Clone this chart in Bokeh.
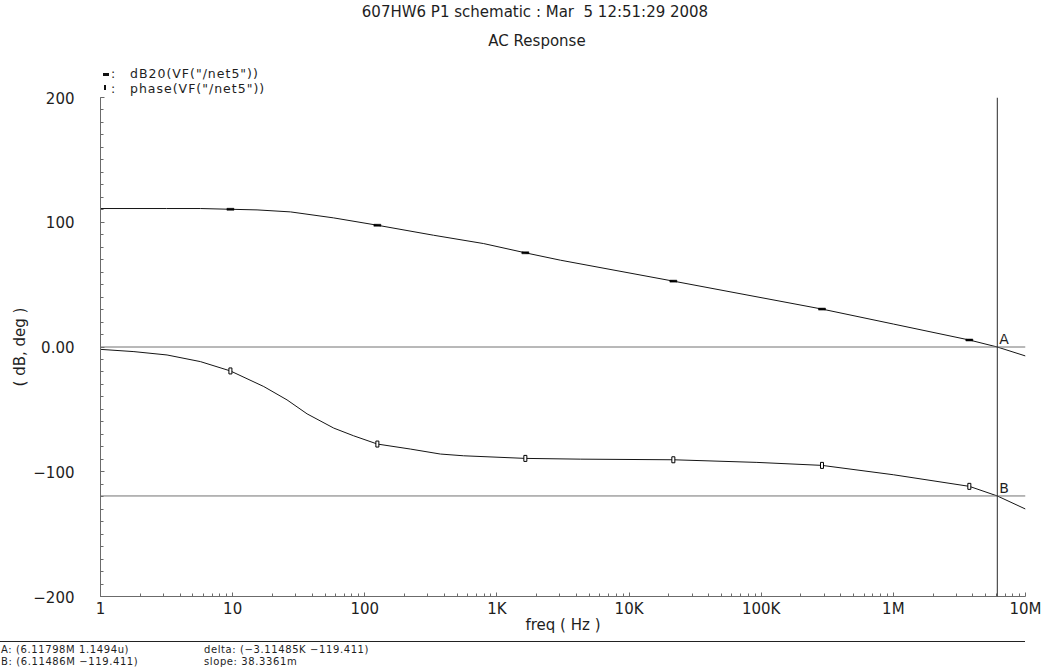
from bokeh.plotting import figure
from bokeh.models import Range1d, FixedTicker, Span, Label, Div
from bokeh.layouts import column
from bokeh.embed import file_html
from bokeh.resources import INLINE
import html

# ---------------- data ----------------
FREQ_MAG = [1, 3.16, 5.7, 9.62, 15.3, 27.4, 58.1, 124.5, 331, 794, 1641, 3020,
            21630, 288400, 1.0e6, 3.758e6, 6.118e6, 1.0e7]
MAG_DB = [111.0, 111.0, 111.0, 110.4, 109.9, 108.3, 103.5, 97.6, 89.6, 82.9, 75.5, 69.6,
          52.8, 30.4, 18.4, 5.6, 0.0, -7.2]

FREQ_PH = [1, 1.79, 3.19, 5.7, 9.62, 17.2, 25.8, 36.6, 58.2, 82.4, 124.5, 221, 373, 560,
           1641, 4270, 21630, 92700, 288400, 1.0e6, 3.758e6, 6.115e6, 1.0e7]
PHASE_DEG = [-1.9, -3.7, -6.4, -11.7, -19.2, -31.7, -42.4, -53.6, -65.0, -71.2, -77.8, -81.8,
             -85.8, -87.2, -89.3, -89.9, -90.4, -92.5, -94.9, -102.4, -111.7, -119.4, -129.9]

MARK_FREQ = [9.62, 124.5, 1641, 21630, 288400, 3.758e6]
MARK_MAG = [110.4, 97.6, 75.5, 52.8, 30.4, 5.6]
MARK_PHASE = [-19.2, -77.8, -89.3, -90.4, -94.9, -111.7]

CURSOR_A = (6.11798e6, 1.1494e-6)
CURSOR_B = (6.11486e6, -119.411)

X_TICKS = [1, 10, 100, 1000, 10000, 100000, 1000000, 10000000]
X_TICK_LABELS = ["1", "10", "100", "1K", "10K", "100K", "1M", "10M"]
Y_TICKS = [-200, -100, 0, 100, 200]
Y_TICK_LABELS = ["\u2212200", "\u2212100", "0.00", "100", "200"]

TITLE = "607HW6 P1 schematic : Mar  5 12:51:29 2008"
SUBTITLE = "AC Response"
LEGEND = ['dB20(VF("/net5"))', 'phase(VF("/net5"))']
X_LABEL = "freq ( Hz )"
Y_LABEL = "( dB, deg )"
FOOT = [("A: (6.11798M 1.1494u)", "delta: (\u22123.11485K \u2212119.411)"),
        ("B: (6.11486M \u2212119.411)", "slope: 38.3361m")]

FONT = "DejaVu Sans"
AXC = "#6b6b6b"
TXT = "#1e1e1e"
W = 1042

# ---------------- header (title, subtitle, legend) ----------------
e = html.escape


def span(left, top, text, size, lh, width=None, align="left", ls=0.0):
    w = f"width:{width}px;" if width else ""
    return (f'<div style="position:absolute;left:{left}px;top:{top}px;{w}text-align:{align};'
            f'font-size:{size}px;line-height:{lh}px;height:{lh}px;letter-spacing:{ls}px;'
            f'white-space:pre;">{e(text)}</div>')


hdr = (f'<div style="position:relative;width:{W}px;height:90px;font-family:\'{FONT}\';color:{TXT};">'
       + span(285, 4, TITLE, 15, 17, width=500, align="center")
       + span(337, 33, SUBTITLE, 15, 17, width=400, align="center")
       + '<div style="position:absolute;left:103px;top:73px;width:6px;height:3px;background:#111;"></div>'
       + span(111, 67, ":", 12.5, 14)
       + span(130, 67, LEGEND[0], 12.5, 14, ls=1.0)
       + '<div style="position:absolute;left:104px;top:85px;width:2px;height:5px;border:1px solid #111;"></div>'
       + span(111, 82, ":", 12.5, 14)
       + span(130, 82, LEGEND[1], 12.5, 14, ls=1.0)
       + '</div>')
header = Div(text=hdr, width=W, height=90, margin=0)

# ---------------- main plot ----------------
p = figure(width=W, height=548, x_axis_type="log",
           x_range=Range1d(1, 1e7), y_range=Range1d(-200, 200),
           output_backend="svg", toolbar_location=None,
           min_border_left=100, min_border_right=17, min_border_top=7, min_border_bottom=42)
p.grid.visible = False
p.outline_line_color = None
p.background_fill_color = "white"
p.border_fill_color = None
p.margin = 0

xminor = [k * 10 ** d for d in range(7) for k in range(2, 10)]
p.xaxis.ticker = FixedTicker(ticks=X_TICKS, minor_ticks=xminor)
p.xaxis.major_label_overrides = dict(zip(X_TICKS, X_TICK_LABELS))
p.yaxis.ticker = FixedTicker(ticks=Y_TICKS, minor_ticks=list(range(-200, 201, 10)))
p.yaxis.major_label_overrides = dict(zip(Y_TICKS, Y_TICK_LABELS))

for ax in (p.xaxis[0], p.yaxis[0]):
    ax.axis_line_color = AXC
    ax.major_tick_line_color = AXC
    ax.minor_tick_line_color = AXC
    ax.major_tick_in = 4
    ax.major_tick_out = 0
    ax.minor_tick_in = 3
    ax.minor_tick_out = 0
    ax.major_label_text_font = FONT
    ax.major_label_text_font_size = "15px"
    ax.major_label_text_color = TXT
    ax.axis_label_text_font = FONT
    ax.axis_label_text_font_size = "15px"
    ax.axis_label_text_font_style = "normal"
    ax.axis_label_text_color = TXT
p.yaxis.major_label_standoff = 26
p.xaxis.major_label_standoff = 3
p.yaxis.axis_label = Y_LABEL
p.yaxis.axis_label_standoff = 1
p.xaxis.axis_label = X_LABEL
p.xaxis.axis_label_standoff = -5

# cursor lines
p.add_layout(Span(location=CURSOR_A[1], dimension="width", line_color="#737373", line_width=1))
p.add_layout(Span(location=CURSOR_B[1], dimension="width", line_color="#737373", line_width=1))
p.add_layout(Span(location=CURSOR_A[0], dimension="height", line_color="#2a2a2a", line_width=1))

# curves and their markers
p.line(FREQ_MAG, MAG_DB, line_color="#151515", line_width=1)
p.line(FREQ_PH, PHASE_DEG, line_color="#151515", line_width=1)
p.rect(MARK_FREQ, MARK_MAG, width=7, height=2, width_units="screen", height_units="screen",
       fill_color="black", line_color="black", line_width=0.5)
p.rect(MARK_FREQ, MARK_PHASE, width=3, height=6, width_units="screen", height_units="screen",
       fill_color="white", line_color="black", line_width=1)

for (cx, cy), name in ((CURSOR_A, "A"), (CURSOR_B, "B")):
    p.add_layout(Label(x=cx, y=cy, x_offset=2, y_offset=0, text=name,
                       text_font=FONT, text_font_size="14px", text_color=TXT,
                       text_align="left", text_baseline="bottom"))

# ---------------- footer with cursor readouts ----------------
ftr = (f'<div style="position:relative;width:{W}px;height:30px;font-family:\'{FONT}\';color:{TXT};">'
       '<div style="position:absolute;left:0;top:3px;width:1025px;height:0;border-top:1px solid #222;"></div>'
       + span(1, 6, FOOT[0][0], 10, 12, ls=0.6) + span(204, 6, FOOT[0][1], 10, 12, ls=0.6)
       + span(1, 18, FOOT[1][0], 10, 12, ls=0.6) + span(204, 18, FOOT[1][1], 10, 12, ls=0.6)
       + '</div>')
footer = Div(text=ftr, width=W, height=30, margin=0)

layout = column(header, p, footer, spacing=0)
open("out.html", "w").write(file_html(layout, INLINE))
